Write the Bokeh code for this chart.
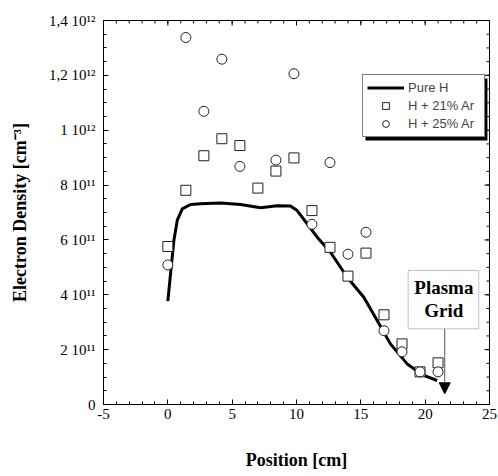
import math
from bokeh.plotting import figure
from bokeh.models import (FixedTicker, Legend, LegendItem, BoxAnnotation,
                          Label, Arrow, NormalHead)
from bokeh.embed import file_html
from bokeh.resources import INLINE

# ---- data ----
pure_h_x = [0, 0.21, 0.47, 0.73, 1.12, 1.76, 2.54, 4.1, 5.65, 7.2, 8.5, 9.53, 10.05,
            10.83, 11.61, 12.64, 13.94, 15.23, 16.27, 17.3, 18.6, 19.89, 20.93]
pure_h_y = [3.77e11, 4.76e11, 5.98e11, 6.71e11, 7.13e11, 7.29e11, 7.32e11, 7.35e11,
            7.29e11, 7.17e11, 7.25e11, 7.24e11, 7.07e11, 6.59e11, 6.10e11, 5.55e11,
            4.64e11, 3.91e11, 3.06e11, 2.21e11, 1.48e11, 1.06e11, 0.875e11]

ar21_x = [0, 1.4, 2.8, 4.2, 5.6, 7.0, 8.4, 9.8, 11.2, 12.6, 14.0, 15.4, 16.8, 18.2, 19.6, 21.0]
ar21_y = [5.76e11, 7.81e11, 9.07e11, 9.69e11, 9.44e11, 7.89e11, 8.51e11, 8.99e11,
          7.07e11, 5.73e11, 4.68e11, 5.52e11, 3.27e11, 2.21e11, 1.19e11, 1.52e11]

ar25_x = [0, 1.4, 2.8, 4.2, 5.6, 8.4, 9.8, 11.2, 12.6, 14.0, 15.4, 16.8, 18.2, 19.6, 21.0]
ar25_y = [5.09e11, 13.38e11, 10.69e11, 12.59e11, 8.68e11, 8.91e11, 12.06e11, 6.57e11,
          8.82e11, 5.48e11, 6.28e11, 2.69e11, 1.92e11, 1.19e11, 1.19e11]

x_ticks = [-5, 0, 5, 10, 15, 20, 25]
x_tick_labels = ["-5", "0", "5", "10", "15", "20", "25"]
y_ticks = [0, 200_000_000_000, 400_000_000_000, 600_000_000_000, 800_000_000_000,
           1_000_000_000_000, 1_200_000_000_000, 1_400_000_000_000]
y_tick_labels = ["0", "2 10\u00b9\u00b9", "4 10\u00b9\u00b9", "6 10\u00b9\u00b9", "8 10\u00b9\u00b9",
                 "1 10\u00b9\u00b2", "1,2 10\u00b9\u00b2", "1,4 10\u00b9\u00b2"]
series_labels = ["Pure H", "H + 21% Ar", "H + 25% Ar"]

SERIF = "Liberation Serif"
SANS = "Liberation Sans"
X0, X1 = -5, 25
Y0, Y1 = 0, 1.4e12

p = figure(width=498, height=476, x_range=(X0, X1), y_range=(Y0, Y1),
           output_backend="svg", toolbar_location=None,
           min_border_left=103, min_border_right=9, min_border_top=20, min_border_bottom=72)
p.xgrid.visible = False
p.ygrid.visible = False
p.outline_line_color = "black"
p.background_fill_color = "white"
p.border_fill_color = "white"

x_minor = [v for v in range(X0, X1 + 1)]
y_minor = [i * 50_000_000_000 for i in range(0, 29)]

def style_axis(ax):
    ax.major_tick_in = 5
    ax.major_tick_out = 0
    ax.minor_tick_in = 3
    ax.minor_tick_out = 0
    ax.axis_line_color = "black"
    ax.major_tick_line_color = "black"
    ax.minor_tick_line_color = "black"
    ax.major_label_text_font = SERIF
    ax.major_label_text_font_size = "15px"
    ax.major_label_text_color = "black"
    ax.axis_label_text_font = SERIF
    ax.axis_label_text_font_style = "bold"
    ax.axis_label_text_font_size = "18px"
    ax.axis_label_text_color = "black"

xa = p.xaxis[0]
xa.ticker = FixedTicker(ticks=x_ticks, minor_ticks=x_minor)
style_axis(xa)
xa.major_label_overrides = {t: s for t, s in zip(x_ticks, x_tick_labels)}
xa.major_label_standoff = 4
xa.axis_label = "Position [cm]"
xa.axis_label_standoff = 28

ya = p.yaxis[0]
ya.ticker = FixedTicker(ticks=y_ticks, minor_ticks=y_minor)
style_axis(ya)
ya.major_label_overrides = {t: s for t, s in zip(y_ticks, y_tick_labels)}
ya.major_label_standoff = 8
ya.axis_label = "Electron Density [cm\u207b\u00b3]"
ya.axis_label_standoff = 16

# mirrored inward ticks on the top and right edges (dashes centred on the frame edge, clipped)
p.scatter(x_ticks, [Y1] * len(x_ticks), marker="dash", angle=math.pi / 2, size=10,
          line_color="black", line_width=1)
p.scatter(x_minor, [Y1] * len(x_minor), marker="dash", angle=math.pi / 2, size=6,
          line_color="black", line_width=1)
p.scatter([X1] * len(y_ticks), y_ticks, marker="dash", size=10,
          line_color="black", line_width=1)
p.scatter([X1] * len(y_minor), y_minor, marker="dash", size=6,
          line_color="black", line_width=1)

r_line = p.line(pure_h_x, pure_h_y, line_color="black", line_width=3)
r_sq = p.scatter(ar21_x, ar21_y, marker="square", size=10, fill_color="white",
                 line_color="#222222", line_width=1)
r_ci = p.scatter(ar25_x, ar25_y, marker="circle", size=10, fill_color="white",
                 line_color="#222222", line_width=1)

# legend shadow
shadow = BoxAnnotation(left=15.36, right=24.84, bottom=0.9625e12, top=1.1885e12,
                       fill_color="black", fill_alpha=1, line_alpha=0)
p.add_layout(shadow)

legend = Legend(items=[LegendItem(label=series_labels[0], renderers=[r_line]),
                       LegendItem(label=series_labels[1], renderers=[r_sq]),
                       LegendItem(label=series_labels[2], renderers=[r_ci])],
                location=(259, 267), border_line_color="black", border_line_width=1,
                background_fill_color="white", background_fill_alpha=1,
                label_text_font=SANS, label_text_font_size="13px",
                glyph_width=37, glyph_height=17, label_height=17, label_width=72,
                label_standoff=4, padding=4, spacing=1, margin=0)
p.add_layout(legend, "center")

# Plasma Grid annotation
box = BoxAnnotation(left=18.68, right=24.16, bottom=0.276e12, top=0.4885e12,
                    fill_color="white", fill_alpha=1, line_color="#333333", line_width=1)
p.add_layout(box)
for txt, yy in (("Plasma", 0.4276e12), ("Grid", 0.3427e12)):
    p.add_layout(Label(x=21.45, y=yy, text=txt, text_font=SERIF, text_font_style="bold",
                       text_font_size="19px", text_align="center", text_baseline="middle",
                       text_color="black"))
p.add_layout(Arrow(end=NormalHead(size=11, fill_color="black", line_color="black"),
                   x_start=21.52, y_start=0.276e12, x_end=21.52, y_end=0.039e12,
                   line_color="#555555", line_width=1))

open("out.html", "w").write(file_html(p, INLINE))
